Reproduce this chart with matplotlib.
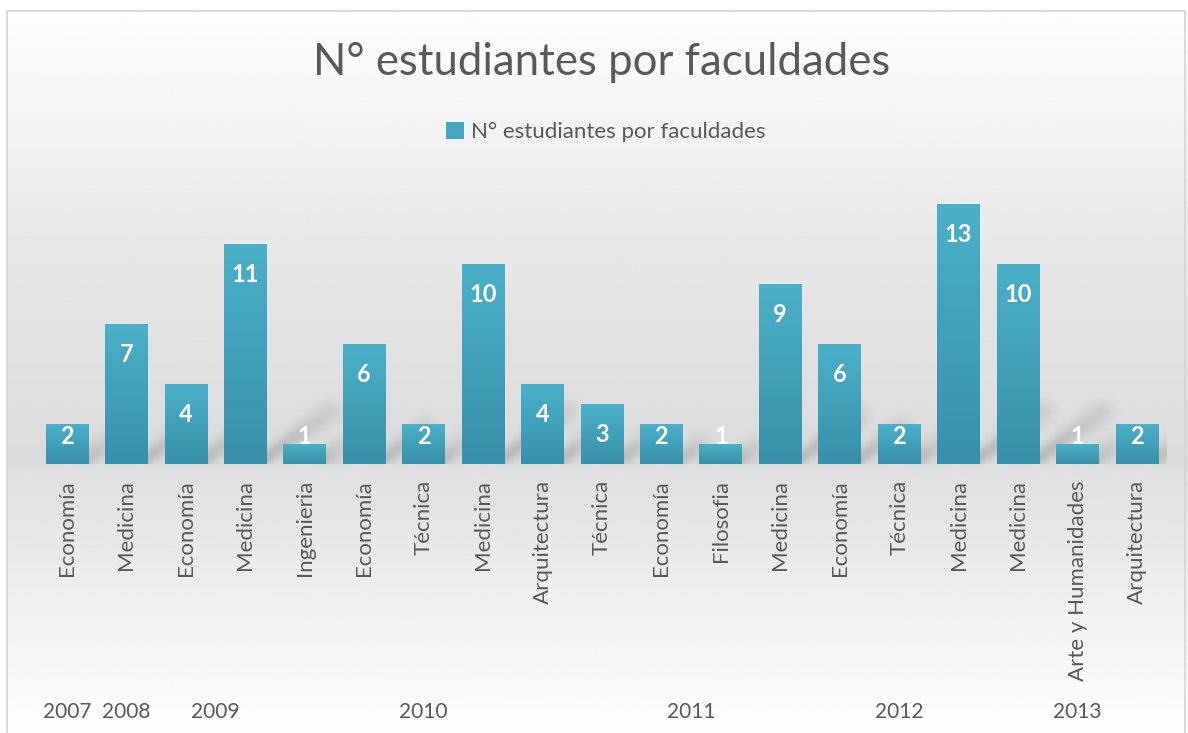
import numpy as np
import matplotlib
matplotlib.use("Agg")
import matplotlib.pyplot as plt
from matplotlib.colors import LinearSegmentedColormap
from matplotlib.patches import Rectangle, Patch
import matplotlib.transforms as mtransforms

# ------- data -------
facultades = ["Economía", "Medicina", "Economía", "Medicina", "Ingenieria",
              "Economía", "Técnica", "Medicina", "Arquitectura", "Técnica",
              "Economía", "Filosofia", "Medicina", "Economía", "Técnica",
              "Medicina", "Medicina", "Arte y Humanidades", "Arquitectura"]
estudiantes = [2, 7, 4, 11, 1, 6, 2, 10, 4, 3, 2, 1, 9, 6, 2, 13, 10, 1, 2]
years = ["2007", "2008", "2009", "2010", "2011", "2012", "2013"]
bars_per_year = [1, 1, 2, 5, 4, 3, 3]

serie = "N° estudiantes por faculdades"
text_gray = "#595959"
plt.rcParams["font.family"] = ["Lato", "DejaVu Sans"]

fig = plt.figure(figsize=(11.88, 7.33), dpi=100)

# background gradient (light grey band around the floor of the plot)
bg = fig.add_axes([0, 0, 1, 1], zorder=-10)
ys = np.linspace(0, 733, 400)
stops_y = [0, 100, 200, 330, 462, 470, 600, 733]
stops_v = [0.995, 0.965, 0.925, 0.885, 0.86, 0.875, 0.94, 0.995]
col = np.interp(ys, stops_y, stops_v)
bg.imshow(np.repeat(col[:, None], 2, axis=1), cmap="gray", vmin=0, vmax=1,
          extent=[0, 1, 0, 1], aspect="auto", origin="upper")
bg.set_axis_off()
fig.patches.append(Rectangle((7 / 1188, -0.01), 1178 / 1188, 1 - 11 / 733 + 0.01,
                             transform=fig.transFigure, fill=False,
                             edgecolor="#d4d4d4", linewidth=1.2))
# white margin outside the chart frame
fig.patches.append(Rectangle((0, 1 - 11 / 733), 1, 11 / 733, transform=fig.transFigure,
                             facecolor="white", edgecolor="none", zorder=-5))
fig.patches.append(Rectangle((0, 0), 7 / 1188, 1, transform=fig.transFigure,
                             facecolor="white", edgecolor="none", zorder=-5))

ax = fig.add_axes([37.3 / 1188, 1 - 464 / 733, 1129.4 / 1188, 280 / 733])
ax.patch.set_alpha(0)

x = np.arange(len(estudiantes))
width = 0.72

# soft diagonal shadows behind the bars (computed in approx. pixel units)
px_x, px_y = 59.44, 20.0
gx = np.linspace(-0.5, len(estudiantes) - 0.5, 1130)
gy = np.linspace(0, 5, 100)
GX, GY = np.meshgrid(gx * px_x, gy * px_y)
shade = np.zeros_like(GX)
ang = np.deg2rad(36)
for xi, v in zip(x, estudiantes):
    L = min(14 + 7 * v, 85)
    x0, y0 = (xi + width / 2) * px_x - 6, 2.0
    dx, dy = L * np.cos(ang), L * np.sin(ang)
    t = np.clip(((GX - x0) * dx + (GY - y0) * dy) / (dx * dx + dy * dy), 0, 1)
    d = np.hypot(GX - (x0 + t * dx), GY - (y0 + t * dy))
    sig = 7 + 5 * t
    shade = np.maximum(shade, np.exp(-(d / sig) ** 2) * (1 - 0.55 * t))
rgba = np.zeros(shade.shape + (4,))
rgba[..., 3] = 0.17 * shade
ax.imshow(rgba, extent=[gx[0], gx[-1], 0, gy[-1]], origin="lower",
          aspect="auto", zorder=1, interpolation="bilinear")

cmap = LinearSegmentedColormap.from_list("barra", ["#3890aa", "#4bb0c8"])
grad = np.linspace(1, 0, 100)[:, None]
for xi, v in zip(x, estudiantes):
    ax.imshow(grad, cmap=cmap, vmin=0, vmax=1, aspect="auto",
              extent=[xi - width / 2, xi + width / 2, 0, v], zorder=2)
    ax.text(xi, max(v - 1.5, 1.35), str(v), ha="center", va="center",
            color="white", fontsize=17, fontweight="bold", zorder=3)

ax.set_xlim(-0.5, len(estudiantes) - 0.5)
ax.set_ylim(0, 14)
ax.set_xticks(x)
ax.set_xticklabels(facultades, rotation=90, va="top", ha="center",
                   fontsize=16, color=text_gray)
ax.tick_params(axis="x", length=0, pad=11.5)
ax.set_yticks([])
for s in ax.spines.values():
    s.set_visible(False)

# year groups under the category labels
trans = mtransforms.blended_transform_factory(ax.transData, fig.transFigure)
start = 0
for yr, n in zip(years, bars_per_year):
    centre = np.mean(x[start:start + n])
    ax.text(centre, 1 - 712 / 733, yr, transform=trans, ha="center", va="center",
            fontsize=15, color=text_gray)
    start += n

fig.text(0.506, 1 - 62 / 733, serie, ha="center", va="center",
         fontsize=31.5, color=text_gray)
fig.legend(handles=[Patch(facecolor="#45a6bf", label=serie)],
           loc="center", bbox_to_anchor=(0.51, 1 - 132 / 733), frameon=False,
           fontsize=16, labelcolor=text_gray, handlelength=0.8,
           handleheight=0.8, handletextpad=0.3)

fig.savefig("out.png", dpi=100)
